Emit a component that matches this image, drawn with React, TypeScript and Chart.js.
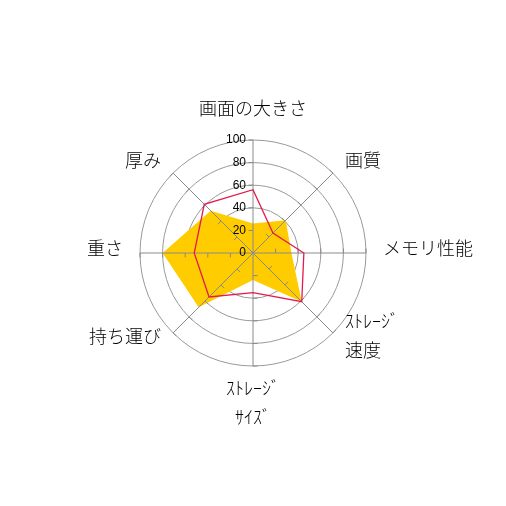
import { useEffect, useRef } from "react";
import {
  Chart,
  RadarController,
  RadialLinearScale,
  PointElement,
  LineElement,
  Filler,
} from "chart.js";

Chart.register(RadarController, RadialLinearScale, PointElement, LineElement, Filler);

const categories: (string | string[])[] = [
  "画面の大きさ",
  "画質",
  "メモリ性能",
  ["ｽﾄﾚｰｼﾞ", "速度"],
  ["ｽﾄﾚｰｼﾞ", "ｻｲｽﾞ"],
  "持ち運び",
  "重さ",
  "厚み",
];
const yellowValues = [26, 41, 34, 61, 24, 68, 80, 53];
const redValues = [56, 25, 45, 61, 35, 55, 52, 61];
const tickValues = [0, 20, 40, 60, 80, 100];

const LABEL_FONT = "300 18px 'Noto Sans CJK JP', sans-serif";
const TICK_FONT = "12px 'Liberation Sans Narrow', 'Liberation Sans', sans-serif";
const AXIS_COLOR = "#8a8a8a";

// chart.js paints datasets last-to-first, so the yellow area (index 1) goes first
const AREA_INDEX = 1;

// angle lines + small tick marks, drawn above the yellow area, below the red line
const axisPlugin = {
  id: "axisDecor",
  afterDatasetDraw(chart: any, args: any) {
    if (args.index !== AREA_INDEX) return;
    const scale = chart.scales.r;
    const ctx = chart.ctx;
    ctx.save();
    ctx.strokeStyle = AXIS_COLOR;
    ctx.lineWidth = 1;
    categories.forEach((_, i) => {
      const end = scale.getPointPositionForValue(i, tickValues[tickValues.length - 1]);
      ctx.beginPath();
      ctx.moveTo(scale.xCenter, scale.yCenter);
      ctx.lineTo(end.x, end.y);
      ctx.stroke();
      const a = scale.getIndexAngle(i) - Math.PI / 2;
      const nx = Math.sin(a);
      const ny = -Math.cos(a);
      tickValues.forEach((v) => {
        if (v === 0) return;
        const p = scale.getPointPositionForValue(i, v);
        ctx.beginPath();
        ctx.moveTo(p.x, p.y);
        ctx.lineTo(p.x + nx * 4.5, p.y + ny * 4.5);
        ctx.stroke();
      });
    });
    ctx.restore();
  },
  afterDraw(chart: any) {
    const scale = chart.scales.r;
    const ctx = chart.ctx;
    ctx.save();
    ctx.fillStyle = "#000";

    // tick labels on the vertical axis
    ctx.font = TICK_FONT;
    ctx.textAlign = "right";
    ctx.textBaseline = "middle";
    tickValues.forEach((v) => {
      const p = scale.getPointPositionForValue(0, v);
      ctx.fillText(String(v), p.x - 7, p.y);
    });

    // point labels
    ctx.font = LABEL_FONT;
    const pad = 17;
    const gap = 29.5;
    const d = scale.drawingArea + pad;
    categories.forEach((lbl, i) => {
      const lines = Array.isArray(lbl) ? lbl : [lbl];
      const p = scale.getPointPosition(i, d);
      const ux = (p.x - scale.xCenter) / d;
      const uy = (p.y - scale.yCenter) / d;
      ctx.textAlign = ux > 0.01 ? "left" : ux < -0.01 ? "right" : "center";
      const h = 20 + (lines.length - 1) * gap;
      const cy = p.y - 5 + (Math.abs(ux) < 0.01 ? (uy * h) / 2 : -uy * 6);
      lines.forEach((t, k) => {
        ctx.fillText(t, p.x, cy - ((lines.length - 1) * gap) / 2 + k * gap);
      });
    });
    ctx.restore();
  },
};

export default function App() {
  const canvasRef = useRef<HTMLCanvasElement>(null);
  const chartRef = useRef<Chart | null>(null);

  useEffect(() => {
    if (!canvasRef.current) return;
    if (chartRef.current) chartRef.current.destroy();

    chartRef.current = new Chart(canvasRef.current, {
      type: "radar",
      data: {
        labels: categories,
        datasets: [
          {
            data: redValues,
            borderColor: "#E31A4B",
            backgroundColor: "transparent",
            borderWidth: 1.3,
            fill: false,
            pointRadius: 0,
          },
          {
            data: yellowValues,
            backgroundColor: "#FFCC00",
            borderWidth: 0,
            fill: true,
            pointRadius: 0,
          },
        ],
      },
      options: {
        responsive: true,
        maintainAspectRatio: false,
        animation: false,
        events: [],
        layout: { padding: 140 },
        scales: {
          r: {
            min: 0,
            max: 100,
            ticks: { stepSize: 20, display: false },
            grid: { color: "#999", circular: true, lineWidth: 1 },
            angleLines: { display: false },
            pointLabels: { display: false },
          },
        },
      },
      plugins: [axisPlugin],
    });

    return () => { chartRef.current?.destroy(); };
  }, []);

  return (
    <div style={{ position: "fixed", left: 0, top: 0, width: 506, height: 506, background: "#fff" }}>
      <canvas ref={canvasRef} />
    </div>
  );
}
